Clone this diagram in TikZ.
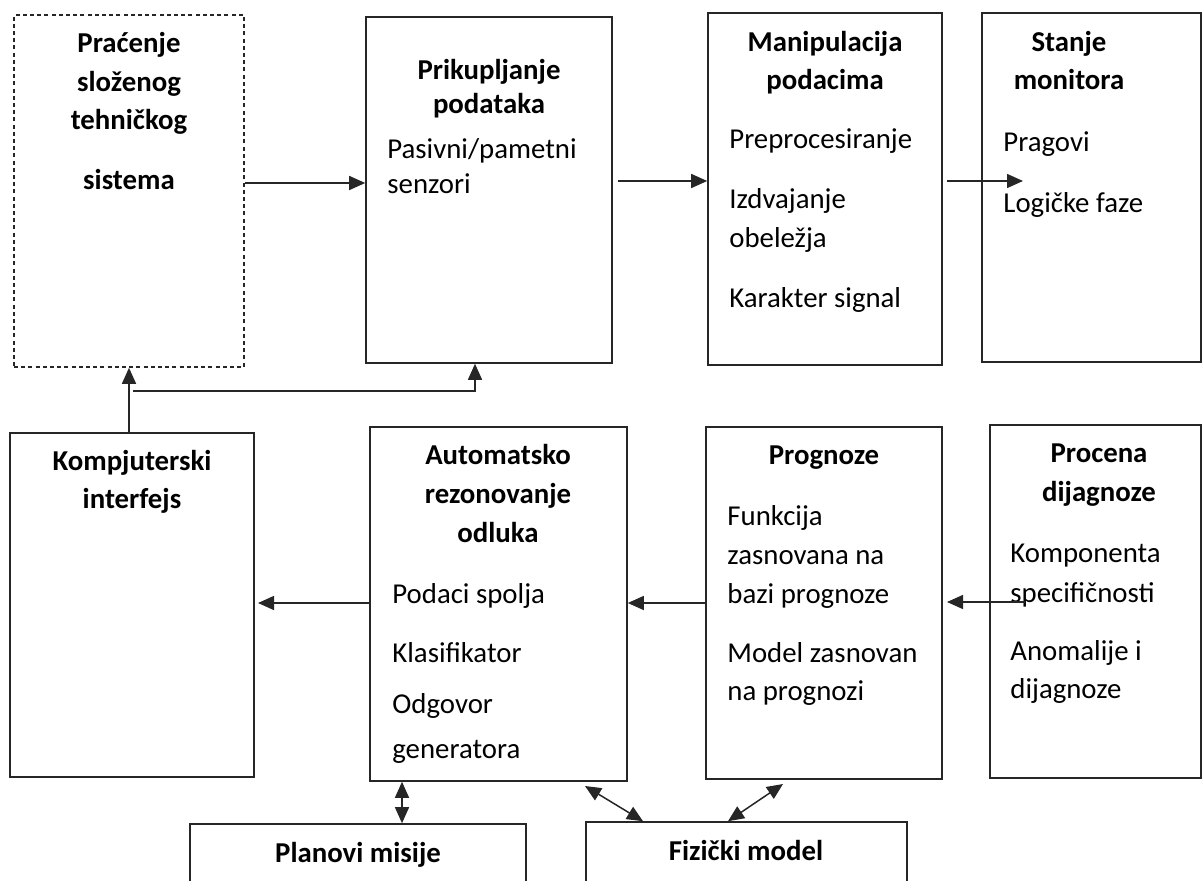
\documentclass[tikz,border=0pt]{standalone}
\usepackage{fontspec}
\setmainfont{Carlito}
\usetikzlibrary{arrows.meta,fit}
\begin{document}
\begin{tikzpicture}[x=0.5pt,y=-0.5pt,
  box/.style={draw=black!85, line width=0.8pt, inner sep=0pt},
  dashbox/.style={box, dash pattern=on 2pt off 1.6pt},
  tip/.style={Triangle[length=8pt,width=7pt]},
  arr/.style={draw=black!85, line width=0.75pt, -{Triangle[length=8pt,width=7pt]}},
  darr/.style={draw=black!85, line width=0.75pt, {Triangle[length=8pt,width=7pt]}-{Triangle[length=8pt,width=7pt]}},
  head/.style={font=\fontsize{14.4pt}{17pt}\selectfont\bfseries, anchor=base, inner sep=0pt},
  body/.style={font=\fontsize{14.4pt}{17pt}\selectfont, anchor=base west, inner sep=0pt},
]
\useasboundingbox (0,0) rectangle (1203,881);
\clip (0,0) rectangle (1203,881);

% boxes
\node[dashbox, fit={(14,15) (244,367)}] (b1) {};
\node[box, fit={(366,17) (612,363)}] (b2) {};
\node[box, fit={(708,13) (942,365)}] (b3) {};
\node[box, fit={(982,13) (1201,362)}] (b4) {};
\node[box, fit={(10,433) (254,777)}] (b5) {};
\node[box, fit={(370,427) (627,781)}] (b6) {};
\node[box, fit={(706,427) (942,779)}] (b7) {};
\node[box, fit={(990,425) (1201,778)}] (b8) {};
\node[box, fit={(190,824) (526,900)}] (b9) {};
\node[box, fit={(586,822) (907,900)}] (b10) {};

% texts
\node[head] (t1a) at (129,53) {Praćenje};
\node[head] (t1b) at (129,92) {složenog};
\node[head] (t1c) at (129,130) {tehničkog};
\node[head] (t1d) at (129,190) {sistema};

\node[head] (t2a) at (489,80) {Prikupljanje};
\node[head] (t2b) at (489,114) {podataka};
\node[body] (t2c) at (387,159) {Pasivni/pametni};
\node[body] (t2d) at (387,194) {senzori};

\node[head] (t3a) at (825,52) {Manipulacija};
\node[head] (t3b) at (825,90) {podacima};
\node[body] (t3c) at (729,149) {Preprocesiranje};
\node[body] (t3d) at (729,209) {Izdvajanje};
\node[body] (t3e) at (729,248) {obeležja};
\node[body] (t3f) at (729,308) {Karakter signal};

\node[head] (t4a) at (1069,52) {Stanje};
\node[head] (t4b) at (1069,90) {monitora};
\node[body] (t4c) at (1003,152) {Pragovi};
\node[body] (t4d) at (1003,213) {Logičke faze};

\node[head] (t5a) at (132,470) {Kompjuterski};
\node[head] (t5b) at (132,508) {interfejs};

\node[head] (t6a) at (498,465) {Automatsko};
\node[head] (t6b) at (498,503) {rezonovanje};
\node[head] (t6c) at (498,542) {odluka};
\node[body] (t6d) at (392,603) {Podaci spolja};
\node[body] (t6e) at (392,662) {Klasifikator};
\node[body] (t6f) at (392,713) {Odgovor};
\node[body] (t6g) at (392,758) {generatora};

\node[head] (t7a) at (824,465) {Prognoze};
\node[body] (t7b) at (727,525) {Funkcija};
\node[body] (t7c) at (727,564) {zasnovana na};
\node[body] (t7d) at (727,603) {bazi prognoze};
\node[body] (t7e) at (727,662) {Model zasnovan};
\node[body] (t7f) at (727,700) {na prognozi};

\node[head] (t8a) at (1099,463) {Procena};
\node[head] (t8b) at (1099,502) {dijagnoze};
\node[body] (t8c) at (1010,562) {Komponenta};
\node[body] (t8d) at (1010,602) {specifičnosti};
\node[body] (t8e) at (1010,660) {Anomalije i};
\node[body] (t8f) at (1010,698) {dijagnoze};

\node[head] (t9) at (358,862) {Planovi misije};
\node[head] (t10) at (746,860) {Fizički model};

% connector anchors
\coordinate (r1) at (0,183);
\coordinate (s2) at (618,181);
\coordinate (s3) at (947,181);
\coordinate (e3) at (1023,181);
\coordinate (j1) at (133,391);
\coordinate (j2) at (475,391);
\coordinate (r6) at (0,603);
\coordinate (e6) at (258,603);
\coordinate (s8) at (1025,602);
\coordinate (e8) at (947,602);
\coordinate (v9) at (402,0);
\coordinate (d1) at (585,786);
\coordinate (d1e) at (643,0);
\coordinate (d2) at (783,784);
\coordinate (d2e) at (728,0);

% connectors
\draw[arr] (b1.east |- r1) -- (b2.west |- r1);
\draw[arr] (s2) -- (b3.west |- s2);
\draw[arr] (s3) -- (e3);
\draw[arr] (b1.south |- b5.north) -- (b1.south);
\draw[arr] (j1) -- (j2) -- (b2.south -| j2);
\draw[arr] (b6.west |- r6) -- (e6);
\draw[arr] (b7.west |- r6) -- (b6.east |- r6);
\draw[arr] (s8) -- (e8);
\draw[darr] (b6.south -| v9) -- (b9.north -| v9);
\draw[darr] (d1) -- (b10.north -| d1e);
\draw[darr] (d2) -- (b10.north -| d2e);
\end{tikzpicture}
\end{document}
